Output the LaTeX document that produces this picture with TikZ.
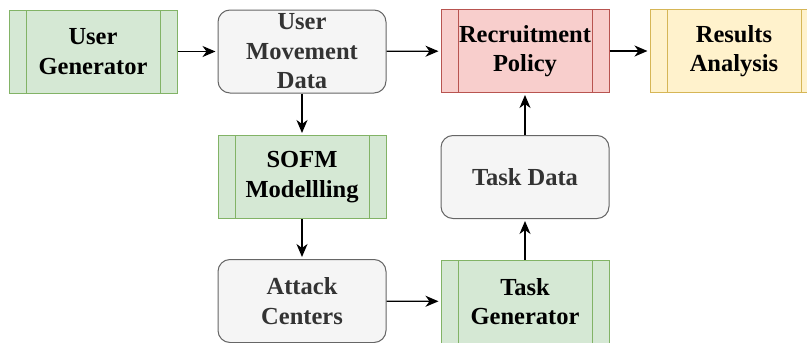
\documentclass[tikz,border=0pt]{standalone}
\usepackage{fontspec}
\setmainfont{Liberation Serif}
\usetikzlibrary{arrows.meta}

\definecolor{greenfill}{HTML}{D5E8D4}
\definecolor{greenline}{HTML}{82B366}
\definecolor{grayfill}{HTML}{F5F5F5}
\definecolor{grayline}{HTML}{666666}
\definecolor{graytext}{HTML}{333333}
\definecolor{redfill}{HTML}{F8CECC}
\definecolor{redline}{HTML}{B85450}
\definecolor{yellowfill}{HTML}{FFF2CC}
\definecolor{yellowline}{HTML}{D6B656}

\tikzset{
  base/.style={minimum width=168pt, minimum height=83pt, inner sep=0pt, align=center,
    font=\fontsize{24.5}{29.5}\selectfont\bfseries, line width=1pt},
  procbox/.style 2 args={base, fill=#1, draw=#2,
    path picture={\draw[#2, line width=1pt]
      ([xshift=17pt]path picture bounding box.north west) -- ([xshift=17pt]path picture bounding box.south west)
      ([xshift=-17pt]path picture bounding box.north east) -- ([xshift=-17pt]path picture bounding box.south east);}},
  databox/.style={base, rounded corners=12pt, fill=grayfill, draw=grayline, text=graytext},
  arr/.style={-{Stealth[length=13pt,width=11pt,inset=4pt]}, line width=1.3pt, shorten >=2pt}
}

\begin{document}
\begin{tikzpicture}[x=1pt,y=-1pt]
\useasboundingbox (0,0) rectangle (807,343);

% top row
\node[procbox={greenfill}{greenline}] (usergen) at (93,51.5) {User\\Generator};
\node[databox] (movedata) at (302,51.5) {User\\Movement\\Data};
\node[procbox={redfill}{redline}] (policy) at (525,51) {Recruitment\\Policy};
\node[procbox={yellowfill}{yellowline}] (results) at (734,51) {Results\\Analysis};

% middle row
\node[procbox={greenfill}{greenline}] (sofm) at (302,177) {SOFM\\Modellling};
\node[databox] (taskdata) at (525,177) {Task Data};

% bottom row
\node[databox] (attack) at (302,301) {Attack\\Centers};
\node[procbox={greenfill}{greenline}] (taskgen) at (525,301.5) {Task\\Generator};

\draw[arr] (usergen) -- (movedata);
\draw[arr] (movedata) -- (policy);
\draw[arr] (policy) -- (results);
\draw[arr] (movedata) -- (sofm);
\draw[arr] (sofm) -- (attack);
\draw[arr] (attack) -- (taskgen);
\draw[arr] (taskgen) -- (taskdata);
\draw[arr] (taskdata) -- (policy);
\end{tikzpicture}
\end{document}
